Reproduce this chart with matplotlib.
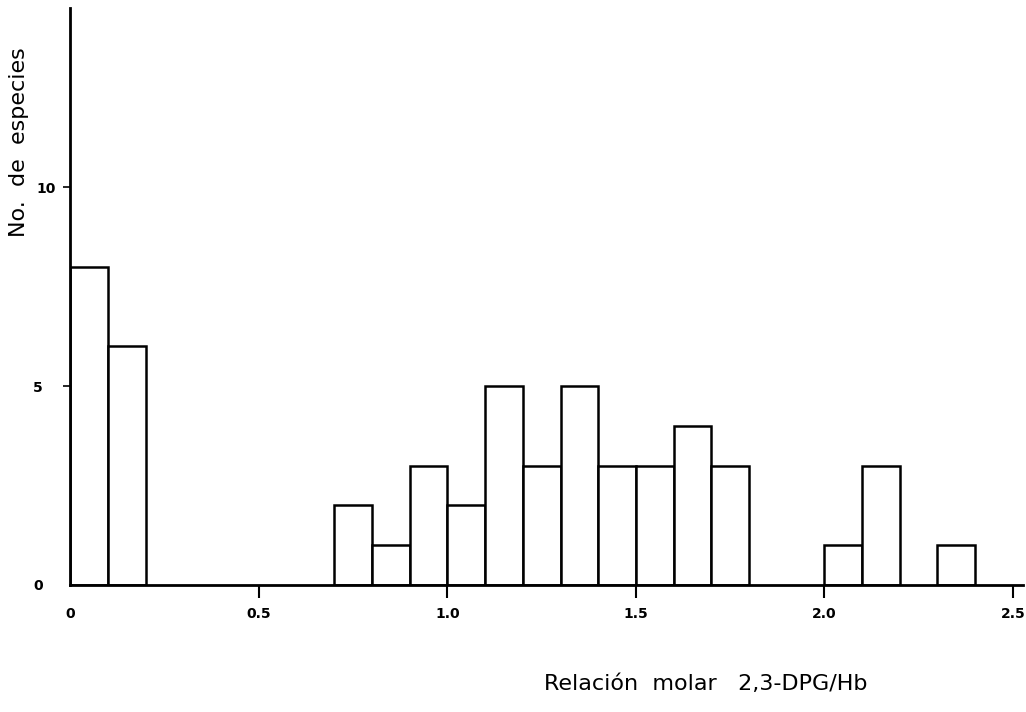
import numpy as np
import matplotlib
matplotlib.use("Agg")
import matplotlib.pyplot as plt
from matplotlib.transforms import ScaledTranslation

# histograma de la relacion molar 2,3-DPG/Hb (clases de 0.1)
bin_left = [0.0, 0.1, 0.7, 0.8, 0.9, 1.0, 1.1, 1.2, 1.3, 1.4, 1.5, 1.6, 1.7, 2.0, 2.1, 2.3]
n_especies = [8, 6, 2, 1, 3, 2, 5, 3, 5, 3, 3, 4, 3, 1, 3, 1]
bin_width = 0.1

x_ticks = [0, 0.5, 1.0, 1.5, 2.0, 2.5]
x_ticklabels = ["0", "0.5", "1.0", "1.5", "2.0", "2.5"]
y_ticks = [0, 5, 10]
y_ticklabels = ["0", "5", "10"]

fig = plt.figure(figsize=(10.26, 7.12), dpi=100)
ax = fig.add_axes([0.0687, 0.1784, 0.9284, 0.8104])

ax.bar(bin_left, n_especies, width=bin_width, align="edge",
       facecolor="white", edgecolor="black", linewidth=1.8)

ax.set_xlim(0, 2.527)
ax.set_ylim(0, 14.5)

for s in ["top", "right"]:
    ax.spines[s].set_visible(False)
for s in ["left", "bottom"]:
    ax.spines[s].set_linewidth(2)

ax.set_xticks(x_ticks)
ax.set_xticklabels(x_ticklabels, fontsize=10, fontweight="bold")
ax.set_yticks(y_ticks)
ax.set_yticklabels(y_ticklabels, fontsize=10, fontweight="bold")
ax.tick_params(axis="x", direction="out", length=9, width=1.5, pad=7)
ax.tick_params(axis="y", direction="out", length=5, width=1.2, pad=15)
# sin marca en el origen
ax.yaxis.get_major_ticks()[0].tick1line.set_visible(False)
ax.xaxis.get_major_ticks()[0].tick1line.set_visible(False)

# el "10" queda mas cerca del eje
lbl10 = ax.get_yticklabels()[2]
lbl10.set_transform(lbl10.get_transform() + ScaledTranslation(0.13, 0, fig.dpi_scale_trans))

fig.text(0.019, 0.80, "No.  de  especies", rotation=90, fontsize=16,
         ha="center", va="center")
fig.text(0.688, 0.039, "Relación  molar   2,3-DPG/Hb", fontsize=16,
         ha="center", va="center")

fig.savefig("out.png", dpi=100, facecolor="white")
